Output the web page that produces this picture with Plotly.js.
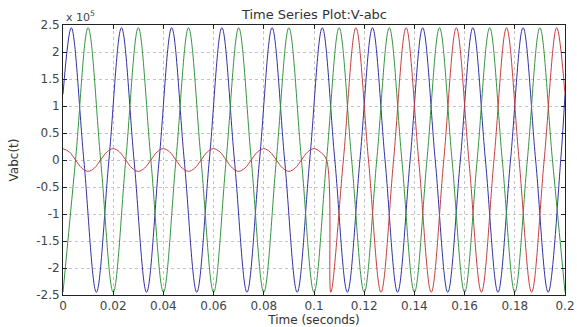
<!DOCTYPE html>
<html>
<head>
<meta charset="utf-8">
<script src="https://cdn.plot.ly/plotly-3.0.1.min.js"></script>
<style>
html, body { margin: 0; padding: 0; background: #fff; }
#chart { width: 577px; height: 327px; }
</style>
</head>
<body>
<div id="chart"></div>
<script>
// Values in units of 10^5 V, read at peaks, zero crossings and troughs
const tA = [0, 0.0033, 0.0083, 0.0133, 0.0183, 0.0233, 0.0283, 0.0333, 0.0383, 0.0433, 0.0483,
  0.0533, 0.0583, 0.0633, 0.0683, 0.0733, 0.0783, 0.0833, 0.0883, 0.0933, 0.0983,
  0.1033, 0.1083, 0.1133, 0.1183, 0.1233, 0.1283, 0.1333, 0.1383, 0.1433, 0.1483,
  0.1533, 0.1583, 0.1633, 0.1683, 0.1733, 0.1783, 0.1833, 0.1883, 0.1933, 0.1983, 0.2];
const vA = [1.22,
  2.45, 0, -2.45, 0, 2.45, 0, -2.45, 0, 2.45, 0, -2.45, 0, 2.45, 0, -2.45, 0, 2.45, 0, -2.45, 0,
  2.45, 0, -2.45, 0, 2.45, 0, -2.45, 0, 2.45, 0, -2.45, 0, 2.45, 0, -2.45, 0, 2.45, 0, -2.45, 0,
  1.22];

const tB = [0, 0.005, 0.01, 0.015, 0.02, 0.025, 0.03, 0.035, 0.04, 0.045, 0.05,
  0.055, 0.06, 0.065, 0.07, 0.075, 0.08, 0.085, 0.09, 0.095, 0.1,
  0.105, 0.11, 0.115, 0.12, 0.125, 0.13, 0.135, 0.14, 0.145, 0.15,
  0.155, 0.16, 0.165, 0.17, 0.175, 0.18, 0.185, 0.19, 0.195, 0.2];
const vB = [-2.45, 0, 2.45, 0, -2.45, 0, 2.45, 0, -2.45, 0, 2.45, 0, -2.45, 0, 2.45, 0, -2.45, 0, 2.45, 0,
  -2.45, 0, 2.45, 0, -2.45, 0, 2.45, 0, -2.45, 0, 2.45, 0, -2.45, 0, 2.45, 0, -2.45, 0, 2.45, 0,
  -2.45];

const tC = [0, 0.0025, 0.005, 0.0075, 0.01, 0.0125, 0.015, 0.0175, 0.02, 0.0225,
  0.025, 0.0275, 0.03, 0.0325, 0.035, 0.0375, 0.04, 0.0425, 0.045, 0.0475,
  0.05, 0.0525, 0.055, 0.0575, 0.06, 0.0625, 0.065, 0.0675, 0.07, 0.0725,
  0.075, 0.0775, 0.08, 0.0825, 0.085, 0.0875, 0.09, 0.0925, 0.095, 0.0975,
  0.1, 0.1025, 0.105,
  0.1067, 0.1117, 0.1167, 0.1217, 0.1267, 0.1317, 0.1367, 0.1417, 0.1467, 0.1517,
  0.1567, 0.1617, 0.1667, 0.1717, 0.1767, 0.1817, 0.1867, 0.1917, 0.1967, 0.2];
const vC = [
  0.21, 0.15, 0, -0.15, -0.21, -0.15, 0, 0.15,
  0.21, 0.15, 0, -0.15, -0.21, -0.15, 0, 0.15,
  0.21, 0.15, 0, -0.15, -0.21, -0.15, 0, 0.15,
  0.21, 0.15, 0, -0.15, -0.21, -0.15, 0, 0.15,
  0.21, 0.15, 0, -0.15, -0.21, -0.15, 0, 0.15,
  0.21, 0.15, 0,
  -2.45, 0, 2.45, 0, -2.45, 0, 2.45, 0, -2.45, 0, 2.45, 0, -2.45, 0, 2.45, 0, -2.45, 0, 2.45,
  1.22];

const xTicks = [0, 0.02, 0.04, 0.06, 0.08, 0.1, 0.12, 0.14, 0.16, 0.18, 0.2];
const xTickText = ['0', '0.02', '0.04', '0.06', '0.08', '0.1', '0.12', '0.14', '0.16', '0.18', '0.2'];
const yTicks = [-2.5, -2, -1.5, -1, -0.5, 0, 0.5, 1, 1.5, 2, 2.5];
const yTickText = ['-2.5', '-2', '-1.5', '-1', '-0.5', '0', '0.5', '1', '1.5', '2', '2.5'];

const FONT = 'DejaVu Sans, Verdana, sans-serif';
const lineStyle = (c) => ({ color: c, width: 1, shape: 'spline', smoothing: 1 });

const traces = [
  { x: tA, y: vA, mode: 'lines', line: lineStyle('#3030a8'), name: 'Va' },
  { x: tB, y: vB, mode: 'lines', line: lineStyle('#359440'), name: 'Vb' },
  { x: tC, y: vC, mode: 'lines', line: lineStyle('#c93d3d'), name: 'Vc' }
];

const axisCommon = {
  showline: true, linecolor: '#222', linewidth: 1, mirror: 'ticks',
  ticks: 'inside', ticklen: 4, tickcolor: '#222',
  showgrid: true, gridcolor: '#c4c4c4', griddash: 'dot', gridwidth: 1,
  zeroline: false,
  tickfont: { family: FONT, size: 12, color: '#444' }
};

const layout = {
  width: 577, height: 327,
  margin: { l: 63, r: 12, t: 25, b: 32 },
  paper_bgcolor: '#fff', plot_bgcolor: '#fff',
  showlegend: false,
  title: { text: 'Time Series Plot:V-abc', x: 0.545, xanchor: 'center', y: 0.957, yanchor: 'middle',
    font: { family: FONT, size: 13, color: '#333' } },
  xaxis: Object.assign({}, axisCommon, {
    range: [0, 0.2], tickmode: 'array', tickvals: xTicks, ticktext: xTickText,
    title: { text: 'Time (seconds)', standoff: 2, font: { family: FONT, size: 12, color: '#333' } }
  }),
  yaxis: Object.assign({}, axisCommon, {
    range: [-2.5, 2.5], tickmode: 'array', tickvals: yTicks, ticktext: yTickText,
    title: { text: 'Vabc(t)', standoff: 14, font: { family: FONT, size: 12, color: '#333' } }
  }),
  annotations: [{
    text: 'x 10<sup>5</sup>', xref: 'paper', yref: 'paper', x: 0.0, y: 1.0,
    xanchor: 'left', yanchor: 'bottom', showarrow: false, xshift: 1, yshift: -1,
    font: { family: FONT, size: 11, color: '#444' }
  }]
};

Plotly.newPlot('chart', traces, layout, { displayModeBar: false, staticPlot: true });
</script>
</body>
</html>
